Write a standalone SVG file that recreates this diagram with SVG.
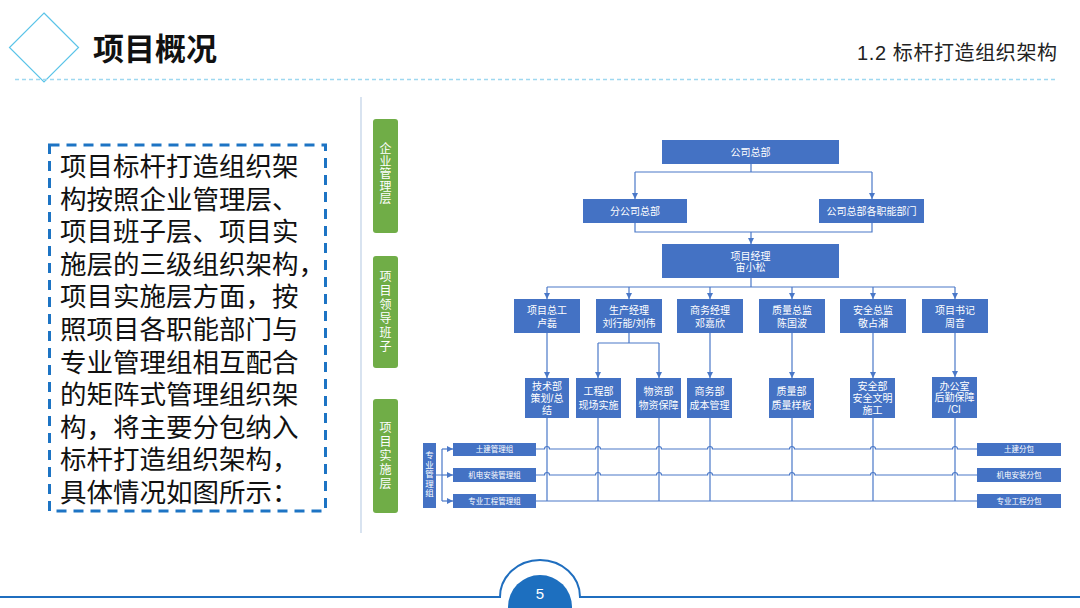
<svg xmlns="http://www.w3.org/2000/svg" width="1080" height="608" viewBox="0 0 1080 608">
<style>
.box{fill:#4472C4}
.gbox{fill:#70AD47}
.t{fill:#fff;font-family:"Liberation Sans","Noto Sans CJK SC",sans-serif;text-anchor:middle}
.t10{font-size:10px}
.t8{font-size:7.5px}
.tv{font-size:12px}
.con{fill:none;stroke:#4A78C8;stroke-width:1.2}
.arr{fill:none;stroke:#4A78C8;stroke-width:1.2;marker-end:url(#ah)}
.body{font-family:"Liberation Sans","Noto Sans CJK SC",sans-serif;font-size:26.5px;fill:#111}
</style>
<defs>
<marker id="ah" viewBox="0 0 6 6" refX="6" refY="3" markerWidth="6" markerHeight="6" markerUnits="userSpaceOnUse" orient="auto">
<path d="M0,0 L6,3 L0,6 z" fill="#4A78C8"/>
</marker>
</defs>
<rect width="1080" height="608" fill="#fff"/>

<g id="header">
<polygon points="44,13 78.5,47.5 44,82 9.5,47.5" fill="none" stroke="#5BC4E8" stroke-width="1.2"/>
<line x1="15" y1="79.5" x2="1055" y2="79.5" stroke="#9ED8F0" stroke-width="1.5" stroke-dasharray="4 3"/>
<text x="93" y="60" font-family="Noto Sans CJK SC,sans-serif" font-weight="bold" font-size="31" fill="#111">项目概况</text>
<text x="857" y="60" font-family="Liberation Sans,Noto Sans CJK SC,sans-serif" font-size="20" fill="#222" textLength="200" lengthAdjust="spacing">1.2 标杆打造组织架构</text>
</g>

<g id="intro">
<rect x="49.5" y="145" width="276" height="366" fill="none" stroke="#1D74C4" stroke-width="3" stroke-dasharray="10 7"/>
<text class="body" x="60" y="176">项目标杆打造组织架</text>
<text class="body" x="60" y="208.6">构按照企业管理层、</text>
<text class="body" x="60" y="241.2">项目班子层、项目实</text>
<text class="body" x="60" y="273.8">施层的三级组织架构，</text>
<text class="body" x="60" y="306.4">项目实施层方面，按</text>
<text class="body" x="60" y="339">照项目各职能部门与</text>
<text class="body" x="60" y="371.6">专业管理组相互配合</text>
<text class="body" x="60" y="404.2">的矩阵式管理组织架</text>
<text class="body" x="60" y="436.8">构，将主要分包纳入</text>
<text class="body" x="60" y="469.4">标杆打造组织架构，</text>
<text class="body" x="60" y="502">具体情况如图所示：</text>
</g>

<line id="divider" x1="361" y1="97" x2="361" y2="533" stroke="#BFD0E6" stroke-width="1.2"/>

<g id="layer-enterprise">
<rect class="gbox" x="373" y="119" width="25" height="114" rx="3"/>
<text class="t tv" x="385.5" y="153.2">企</text><text class="t tv" x="385.5" y="165.7">业</text><text class="t tv" x="385.5" y="178.2">管</text><text class="t tv" x="385.5" y="190.7">理</text><text class="t tv" x="385.5" y="203.2">层</text>
</g>
<g id="layer-leadership">
<rect class="gbox" x="373" y="256" width="25" height="112" rx="3"/>
<text class="t tv" x="385.5" y="281.2">项</text><text class="t tv" x="385.5" y="295.2">目</text><text class="t tv" x="385.5" y="309.2">领</text><text class="t tv" x="385.5" y="323.2">导</text><text class="t tv" x="385.5" y="337.2">班</text><text class="t tv" x="385.5" y="351.2">子</text>
</g>
<g id="layer-implementation">
<rect class="gbox" x="373" y="399" width="25" height="114" rx="3"/>
<text class="t tv" x="385.5" y="432.2">项</text><text class="t tv" x="385.5" y="446.2">目</text><text class="t tv" x="385.5" y="460.2">实</text><text class="t tv" x="385.5" y="474.2">施</text><text class="t tv" x="385.5" y="488.2">层</text>
</g>

<g id="connectors">
<path class="con" d="M751,164 V172 M635,172 H872"/>
<path class="arr" d="M635,172 V199"/>
<path class="arr" d="M872,172 V199"/>
<path class="con" d="M635,223 V232 H872 V223"/>
<path class="arr" d="M751,232 V244"/>
<path class="con" d="M751,278 V287 M547,287 H955"/>
<path class="arr" d="M547,287 V299"/>
<path class="arr" d="M629,287 V299"/>
<path class="arr" d="M710,287 V299"/>
<path class="arr" d="M792,287 V299"/>
<path class="arr" d="M873,287 V299"/>
<path class="arr" d="M955,287 V299"/>
<path class="arr" d="M547,333 V378"/>
<path class="con" d="M629,333 V343 M598,343 H659"/>
<path class="arr" d="M598,343 V378"/>
<path class="arr" d="M659,343 V378"/>
<path class="arr" d="M710,333 V378"/>
<path class="arr" d="M792,333 V378"/>
<path class="arr" d="M873,333 V378"/>
<path class="arr" d="M955,333 V377"/>
<path class="con" d="M547,418 V501 M598,418 V501 M659,418 V501 M710,418 V501 M792,418 V501 M873,418 V501 M955,418 V501"/>
<path class="con" d="M536,449 H544.5 a2.5,2.5 0 0 1 5,0 H595.5 a2.5,2.5 0 0 1 5,0 H656.5 a2.5,2.5 0 0 1 5,0 H707.5 a2.5,2.5 0 0 1 5,0 H789.5 a2.5,2.5 0 0 1 5,0 H870.5 a2.5,2.5 0 0 1 5,0 H952.5 a2.5,2.5 0 0 1 5,0 H977"/>
<path class="con" d="M536,475 H544.5 a2.5,2.5 0 0 1 5,0 H595.5 a2.5,2.5 0 0 1 5,0 H656.5 a2.5,2.5 0 0 1 5,0 H707.5 a2.5,2.5 0 0 1 5,0 H789.5 a2.5,2.5 0 0 1 5,0 H870.5 a2.5,2.5 0 0 1 5,0 H952.5 a2.5,2.5 0 0 1 5,0 H977"/>
<path class="con" d="M536,501 H977"/>
<path class="con" d="M436,475 H442 M442,449 V501"/>
<path class="arr" d="M442,449 H453"/>
<path class="arr" d="M442,475 H453"/>
<path class="arr" d="M442,501 H453"/>
</g>

<g id="n-hq"><rect class="box" x="662" y="140" width="177" height="24"/><text class="t t10" x="750.5" y="155.5">公司总部</text></g>
<g id="n-branch"><rect class="box" x="583" y="199" width="104" height="24"/><text class="t t10" x="635" y="214.5">分公司总部</text></g>
<g id="n-hqdept"><rect class="box" x="819" y="199" width="105" height="24"/><text class="t t10" x="871.5" y="214.5">公司总部各职能部门</text></g>
<g id="n-pm"><rect class="box" x="662" y="244" width="177" height="34"/><text class="t t10" x="750.5" y="259.5">项目经理</text><text class="t t10" x="750.5" y="271">宙小松</text></g>

<g id="n-chief"><rect class="box" x="514" y="299" width="66" height="34"/><text class="t t10" x="547" y="313.5">项目总工</text><text class="t t10" x="547" y="327">卢磊</text></g>
<g id="n-prod"><rect class="box" x="596" y="299" width="66" height="34"/><text class="t t10" x="629" y="313.5">生产经理</text><text class="t t10" x="629" y="327">刘行能/刘伟</text></g>
<g id="n-biz"><rect class="box" x="677" y="299" width="66" height="34"/><text class="t t10" x="710" y="313.5">商务经理</text><text class="t t10" x="710" y="327">邓嘉欣</text></g>
<g id="n-quality"><rect class="box" x="759" y="299" width="66" height="34"/><text class="t t10" x="792" y="313.5">质量总监</text><text class="t t10" x="792" y="327">陈国波</text></g>
<g id="n-safety"><rect class="box" x="840" y="299" width="66" height="34"/><text class="t t10" x="873" y="313.5">安全总监</text><text class="t t10" x="873" y="327">敬占湘</text></g>
<g id="n-secretary"><rect class="box" x="922" y="299" width="66" height="34"/><text class="t t10" x="955" y="313.5">项目书记</text><text class="t t10" x="955" y="327">周音</text></g>

<g id="n-tech"><rect class="box" x="525" y="378" width="44" height="40"/><text class="t t10" x="547" y="390.2">技术部</text><text class="t t10" x="547" y="401.8">策划/总</text><text class="t t10" x="547" y="413.5">结</text></g>
<g id="n-eng"><rect class="box" x="576" y="378" width="45" height="40"/><text class="t t10" x="598.5" y="395">工程部</text><text class="t t10" x="598.5" y="408.5">现场实施</text></g>
<g id="n-mat"><rect class="box" x="636" y="378" width="45" height="40"/><text class="t t10" x="658.5" y="395">物资部</text><text class="t t10" x="658.5" y="408.5">物资保障</text></g>
<g id="n-cost"><rect class="box" x="687" y="378" width="45" height="40"/><text class="t t10" x="709.5" y="395">商务部</text><text class="t t10" x="709.5" y="408.5">成本管理</text></g>
<g id="n-qdept"><rect class="box" x="769" y="378" width="45" height="40"/><text class="t t10" x="791.5" y="395">质量部</text><text class="t t10" x="791.5" y="408.5">质量样板</text></g>
<g id="n-sdept"><rect class="box" x="850" y="378" width="45" height="40"/><text class="t t10" x="872.5" y="390.2">安全部</text><text class="t t10" x="872.5" y="401.8">安全文明</text><text class="t t10" x="872.5" y="413.5">施工</text></g>
<g id="n-office"><rect class="box" x="932" y="377" width="45" height="41"/><text class="t t10" x="954.5" y="389.7">办公室</text><text class="t t10" x="954.5" y="401.3">后勤保障</text><text class="t t10" x="954.5" y="413">/CI</text></g>

<g id="n-specgroup"><rect class="box" x="423" y="443" width="13" height="65"/>
<text class="t" font-size="8.5" x="429.5" y="458">专</text><text class="t" font-size="8.5" x="429.5" y="467.6">业</text><text class="t" font-size="8.5" x="429.5" y="477.2">管</text><text class="t" font-size="8.5" x="429.5" y="486.8">理</text><text class="t" font-size="8.5" x="429.5" y="496.4">组</text></g>
<g id="n-civil-grp"><rect class="box" x="453" y="443" width="83" height="13"/><text class="t t8" x="494.5" y="452.2">土建管理组</text></g>
<g id="n-mep-grp"><rect class="box" x="453" y="468" width="83" height="14"/><text class="t t8" x="494.5" y="477.7">机电安装管理组</text></g>
<g id="n-spec-grp"><rect class="box" x="453" y="494" width="83" height="14"/><text class="t t8" x="494.5" y="503.7">专业工程管理组</text></g>
<g id="n-civil-sub"><rect class="box" x="977" y="443" width="84" height="13"/><text class="t t8" x="1019" y="452.2">土建分包</text></g>
<g id="n-mep-sub"><rect class="box" x="977" y="468" width="84" height="14"/><text class="t t8" x="1019" y="477.7">机电安装分包</text></g>
<g id="n-spec-sub"><rect class="box" x="977" y="494" width="84" height="14"/><text class="t t8" x="1019" y="503.7">专业工程分包</text></g>

<g id="footer">
<path d="M0,597 H500 A40,37 0 0 1 580,597 H1080" fill="none" stroke="#1F6EBF" stroke-width="2"/>
<circle cx="540" cy="607" r="32" fill="#1D6FBF"/>
<text x="540" y="599" font-family="Liberation Sans,sans-serif" font-size="15" fill="#fff" text-anchor="middle">5</text>
</g>
</svg>
